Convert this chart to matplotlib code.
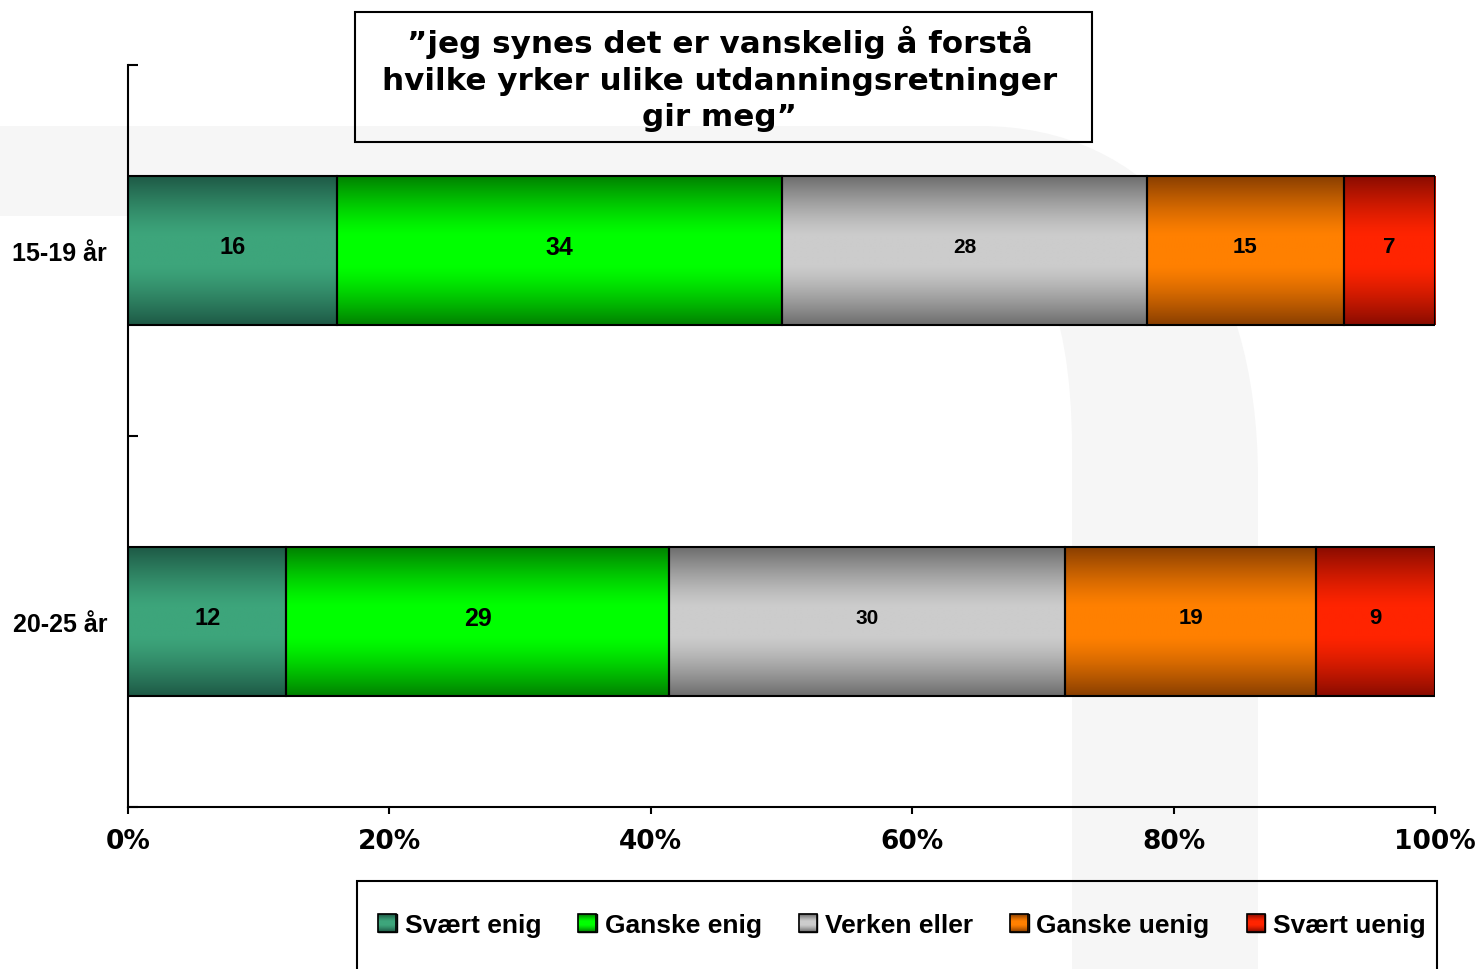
import numpy as np
import matplotlib
matplotlib.use('Agg')
import matplotlib.pyplot as plt
from matplotlib.patches import Rectangle, PathPatch, Patch
from matplotlib.path import Path
from matplotlib.transforms import IdentityTransform

# data
categories = ['15-19 år', '20-25 år']
series = ['Svært enig', 'Ganske enig', 'Verken eller', 'Ganske uenig', 'Svært uenig']
svaert_enig = [16, 12]
ganske_enig = [34, 29]
verken_eller = [28, 30]
ganske_uenig = [15, 19]
svaert_uenig = [7, 9]
values = [svaert_enig, ganske_enig, verken_eller, ganske_uenig, svaert_uenig]

title = '\u201djeg synes det er vanskelig å forstå\nhvilke yrker ulike utdanningsretninger\ngir meg\u201d'

# dark edge / bright middle colours for the gradient look
dark = ['#1e5a46', '#008200', '#6e6e6e', '#8a3f00', '#8b0c00']
light = ['#3da57b', '#00ff00', '#cccccc', '#ff8000', '#ff2400']
label_sizes = [17, 18, 15, 16, 16]

W, H = 1479, 970
fig = plt.figure(figsize=(W / 100, H / 100), dpi=100)


def fx(px):
    return px / W


def fy(py):
    return (H - py) / H


def gradient(c_dark, c_light, n=100, w=1):
    t = np.linspace(0, 1, n)
    d = np.abs(t - 0.5) * 2
    k = 1 - np.clip((d - 0.2) / 0.8, 0, 1) ** 1.3
    a = np.array(matplotlib.colors.to_rgb(c_dark))
    b = np.array(matplotlib.colors.to_rgb(c_light))
    col = a + (b - a) * k[:, None]
    return np.repeat(col[:, None, :], w, axis=1)


# faint background watermark
verts = [(0, 127), (980, 127), (1150, 127), (1258, 260), (1258, 480),
         (1258, 970), (1072, 970), (1072, 450), (1072, 300), (1030, 217),
         (960, 217), (0, 217), (0, 127)]
codes = [Path.MOVETO, Path.LINETO, Path.CURVE4, Path.CURVE4, Path.CURVE4,
         Path.LINETO, Path.LINETO, Path.LINETO, Path.CURVE4, Path.CURVE4,
         Path.CURVE4, Path.LINETO, Path.CLOSEPOLY]
wm = Path([(fx(x), fy(y)) for x, y in verts], codes)
fig.add_artist(PathPatch(wm, transform=fig.transFigure, facecolor='#f6f6f6',
                         edgecolor='none', zorder=-1))

ax = fig.add_axes([fx(128), fy(808), fx(1435) - fx(128), fy(66) - fy(808)])
ax.patch.set_alpha(0)

y = np.arange(len(categories))
totals = np.sum(values, axis=0)
left = np.zeros(len(categories))
for i, name in enumerate(series):
    pct = np.array(values[i]) / totals
    bars = ax.barh(y, pct, left=left, height=0.4, color=light[i],
                   edgecolor='none', zorder=2, label=name)
    grad = gradient(dark[i], light[i])
    for b in bars:
        im = ax.imshow(grad, extent=[b.get_x(), b.get_x() + b.get_width(),
                                     b.get_y() + b.get_height(), b.get_y()],
                       aspect='auto', zorder=2.5, interpolation='bilinear')
        im.set_clip_path(b)
    ax.barh(y, pct, left=left, height=0.4, fill=False, edgecolor='black',
            linewidth=1.5, zorder=3)
    for j in range(len(categories)):
        ax.text(left[j] + pct[j] / 2, y[j] - 0.01, str(values[i][j]), ha='center',
                va='center', fontsize=label_sizes[i], fontweight='bold',
                family='Liberation Sans', zorder=4)
    left += pct

ax.set_xlim(0, 1)
ax.set_ylim(1.5, -0.5)
ax.set_aspect('auto')

ax.spines['top'].set_visible(False)
ax.spines['right'].set_visible(False)
ax.spines['left'].set_linewidth(1.5)
ax.spines['bottom'].set_linewidth(1.5)

ax.set_xticks(np.linspace(0, 1, 6))
ax.set_xticklabels(['0%', '20%', '40%', '60%', '80%', '100%'],
                   fontsize=19, fontweight='bold', family='DejaVu Sans')
ax.tick_params(axis='x', direction='out', length=5, width=1.5, pad=10)

ax.set_yticks(y)
ax.set_yticklabels(categories, fontsize=18, fontweight='bold',
                   family='Liberation Sans')
ax.tick_params(axis='y', which='major', length=0, pad=15)
ax.set_yticks([-0.5, 0.5, 1.5], minor=True)
ax.tick_params(axis='y', which='minor', direction='in', length=7, width=1.5)

# title box
fig.add_artist(Rectangle((fx(355), fy(143)), fx(1092) - fx(355), fy(13) - fy(143),
                         transform=fig.transFigure, fill=False,
                         edgecolor='black', linewidth=1.5))
fig.text(fx(720), fy(79), title, ha='center', va='center', fontsize=22.3,
         fontweight='bold', family='DejaVu Sans', linespacing=1.32)

# legend box (runs off the bottom)
fig.add_artist(Rectangle((fx(357), fy(1000)), fx(1437) - fx(357), fy(882) - fy(1000),
                         transform=fig.transFigure, fill=False,
                         edgecolor='black', linewidth=1.5))
handles = [Patch(facecolor=light[i], edgecolor='black') for i in range(len(series))]
leg = fig.legend(handles, series, loc='center', bbox_to_anchor=(fx(902), fy(926)),
                 ncol=5, frameon=False, handlelength=0.7, handleheight=0.7,
                 handletextpad=0.3, columnspacing=1.4,
                 prop={'family': 'Liberation Sans', 'weight': 'bold', 'size': 19})

fig.canvas.draw()
renderer = fig.canvas.get_renderer()
for i, p in enumerate(leg.get_patches()):
    bb = p.get_window_extent(renderer)
    h = max(int(round(bb.height)), 2)
    w = max(int(round(bb.width)), 2)
    fig.figimage(gradient(dark[i], light[i], n=h, w=w), xo=int(round(bb.x0)),
                 yo=int(round(bb.y0)), zorder=10, origin='upper')
    fig.add_artist(Rectangle((round(bb.x0), round(bb.y0)), w, h,
                             transform=IdentityTransform(), fill=False,
                             edgecolor='black', linewidth=1.2, zorder=11))

fig.savefig('out.png', dpi=100)
